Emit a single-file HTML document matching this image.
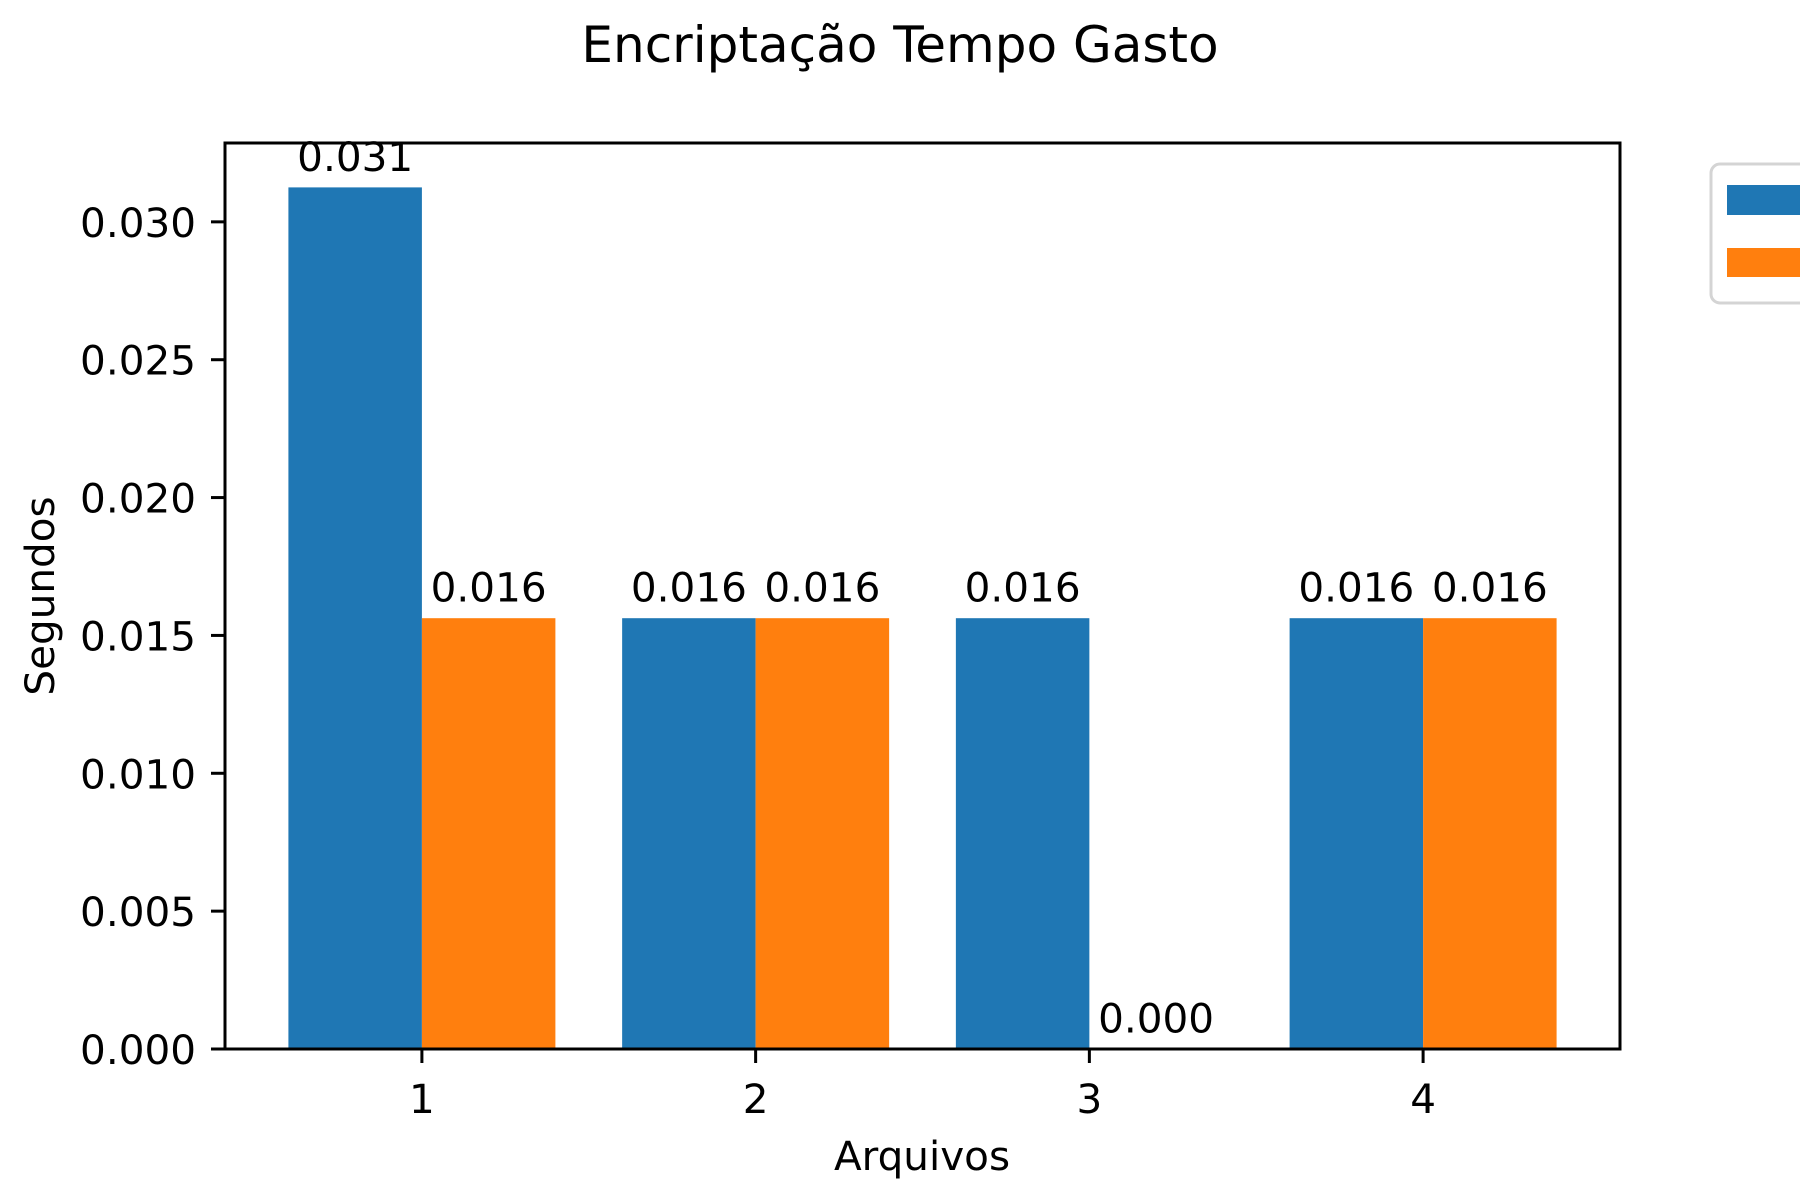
<!DOCTYPE html>
<html><head><meta charset="utf-8"><style>
html,body{margin:0;padding:0;background:#fff;}
svg{display:block;font-family:"DejaVu Sans","Liberation Sans",sans-serif;}
</style></head><body>
<svg id="chart" width="1800" height="1200" viewBox="0 0 1800 1200" xmlns="http://www.w3.org/2000/svg">
<rect width="1800" height="1200" fill="#fff"/>
<text x="900" y="62" font-size="50" text-anchor="middle" fill="#000">Encriptação Tempo Gasto</text>
<g id="plot"></g>
<text x="922" y="1170" font-size="40.5" text-anchor="middle">Arquivos</text>
<text transform="translate(54,596) rotate(-90)" font-size="40.5" text-anchor="middle">Segundos</text>
<g>
<rect x="1711" y="164" width="120" height="139" rx="9" fill="#fff" stroke="#d4d4d4" stroke-width="3"/>
<rect x="1727" y="185" width="90" height="30" fill="#1f77b4"/>
<rect x="1727" y="248" width="90" height="29" fill="#ff7f0e"/>
</g>
</svg>
<script>
const categories = [1, 2, 3, 4];
const seriesA = [0.03125, 0.015625, 0.015625, 0.015625];
const seriesB = [0.015625, 0.015625, 0.0, 0.015625];
const labelsA = ["0.031", "0.016", "0.016", "0.016"];
const labelsB = ["0.016", "0.016", "0.000", "0.016"];
const yTicks = [0, 0.005, 0.010, 0.015, 0.020, 0.025, 0.030];
const yTickLabels = ["0.000", "0.005", "0.010", "0.015", "0.020", "0.025", "0.030"];

const NS = "http://www.w3.org/2000/svg";
const L = 225, R = 1620, T = 143, B = 1049;
const xMin = 0.41, xMax = 4.59, yMax = 0.03286;
const xs = v => L + (v - xMin) / (xMax - xMin) * (R - L);
const ys = v => B - v / yMax * (B - T);
const plot = document.getElementById('plot');
function mk(tag, attrs, parent) {
  const e = document.createElementNS(NS, tag);
  for (const k in attrs) e.setAttribute(k, attrs[k]);
  (parent || plot).appendChild(e);
  return e;
}
const bw = 0.4;
[[seriesA, labelsA, '#1f77b4', -1, 'a'], [seriesB, labelsB, '#ff7f0e', 0, 'b']].forEach(([vals, labs, col, off, s]) => {
  vals.forEach((v, i) => {
    const x0 = xs(categories[i] + off * bw), x1 = xs(categories[i] + (off + 1) * bw);
    const r = mk('rect', {x: x0, y: ys(v), width: x1 - x0, height: B - ys(v), fill: col});
    
    
    const t = mk('text', {x: (x0 + x1) / 2, y: ys(v + 0.0006), 'font-size': 40.5, 'text-anchor': 'middle'});
    t.textContent = labs[i];
    
    
  });
});
yTicks.forEach((v, i) => {
  const y = ys(v);
  const l = mk('line', {x1: L - 14, x2: L, y1: y, y2: y, stroke: '#000', 'stroke-width': 3});
  
  
  const t = mk('text', {x: L - 29, y: y + 15, 'font-size': 40.5, 'text-anchor': 'end'});
  t.textContent = yTickLabels[i];
  
  
});
categories.forEach(c => {
  const x = xs(c);
  const l = mk('line', {x1: x, x2: x, y1: B, y2: B + 14, stroke: '#000', 'stroke-width': 3});
  
  
  const t = mk('text', {x: x, y: 1113, 'font-size': 40.5, 'text-anchor': 'middle'});
  t.textContent = String(c);
  
  
});
const frame = mk('rect', {x: L, y: T, width: R - L, height: B - T, fill: 'none', stroke: '#000', 'stroke-width': 3});


</script>
</body></html>
